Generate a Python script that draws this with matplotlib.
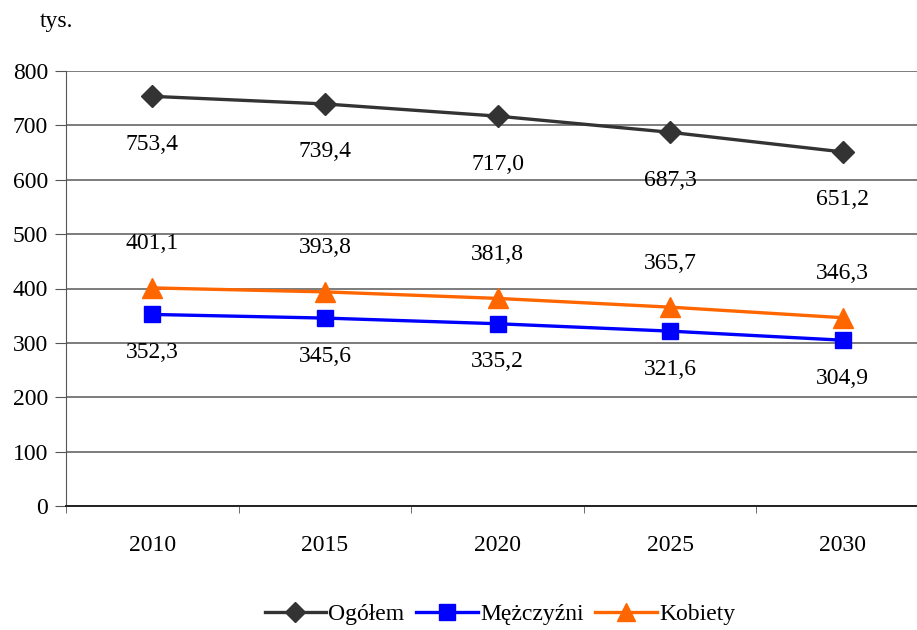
import numpy as np
import matplotlib.pyplot as plt

years = ["2010", "2015", "2020", "2025", "2030"]
ogolem = [753.4, 739.4, 717.0, 687.3, 651.2]
mezczyzni = [352.3, 345.6, 335.2, 321.6, 304.9]
kobiety = [401.1, 393.8, 381.8, 365.7, 346.3]

plt.rcParams['font.family'] = ['Liberation Serif', 'DejaVu Serif']
FS = 17

fig = plt.figure(figsize=(9.17, 6.3), dpi=100)
ax = fig.add_axes([66/917, 124/630, 863/917, 435/630])

x = np.arange(len(years))
ax.plot(x, ogolem, color="#333333", lw=2.4, marker="D", ms=11, label="Ogółem", zorder=3)
ax.plot(x, mezczyzni, color="#0000FF", lw=2.4, marker="s", ms=12, label="Mężczyźni", zorder=3)
ax.plot(x, kobiety, color="#FF6600", lw=2.4, marker="^", ms=14, label="Kobiety", zorder=3)

def fmt(v):
    return ("%.1f" % v).replace(".", ",")

for i in x:
    ax.annotate(fmt(ogolem[i]), (i, ogolem[i]), xytext=(0, -48), textcoords="offset pixels",
                ha="center", va="center", fontsize=FS)
    ax.annotate(fmt(kobiety[i]), (i, kobiety[i]), xytext=(0, 44), textcoords="offset pixels",
                ha="center", va="center", fontsize=FS)
    ax.annotate(fmt(mezczyzni[i]), (i, mezczyzni[i]), xytext=(0, -38), textcoords="offset pixels",
                ha="center", va="center", fontsize=FS)

ax.set_xlim(-0.5, 4.5)
ax.set_ylim(0, 800)
ax.set_yticks(range(0, 801, 100))
ax.set_xticks(x)
ax.set_xticklabels(years, fontsize=FS)
ax.set_xticks(np.arange(-0.5, 4.6, 1), minor=True)
ax.tick_params(axis="x", which="major", length=0, pad=21)
ax.tick_params(axis="x", which="minor", length=5, color="#555555", direction="out")
ax.tick_params(axis="y", labelsize=FS, length=8, color="#555555", pad=5)
ax.yaxis.grid(True, color="#666666", lw=1.2)
ax.set_axisbelow(True)
for s in ["top", "right"]:
    ax.spines[s].set_visible(False)
ax.spines["left"].set_color("#555555")
ax.spines["bottom"].set_color("#222222")
ax.spines["bottom"].set_linewidth(1.4)

fig.text(40/917, 1 - 22/630, "tys.", fontsize=FS, va="center", ha="left")

fig.legend(loc="center", bbox_to_anchor=(500/917, 1 - 614/630), ncol=3, frameon=False,
           fontsize=FS, handlelength=2.6, handletextpad=0.1, columnspacing=0.5,
           markerscale=0.95)

fig.savefig("out.png", dpi=100)
